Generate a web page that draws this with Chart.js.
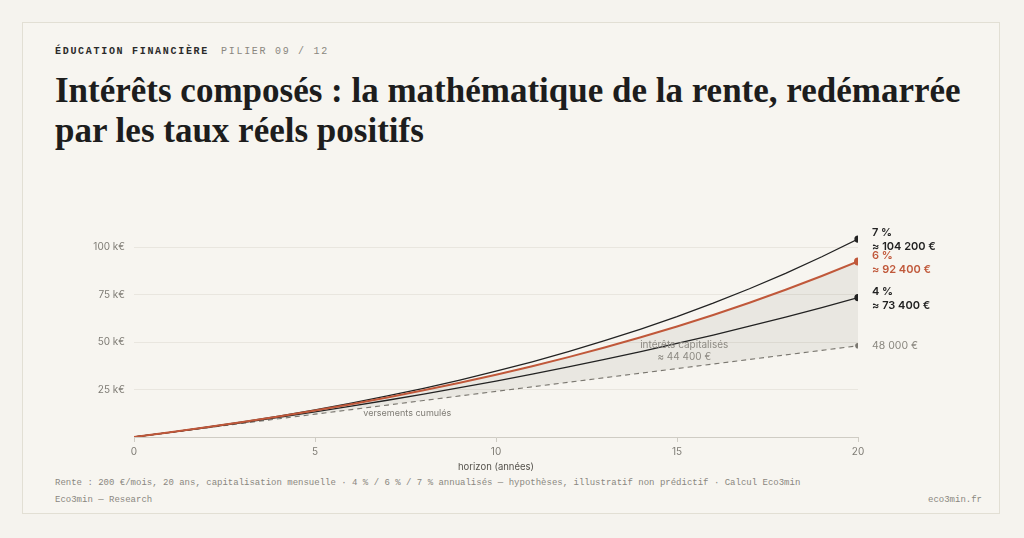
<!DOCTYPE html>
<html lang="fr">
<head>
<meta charset="utf-8">
<title>Intérêts composés</title>
<script src="https://cdn.jsdelivr.net/npm/chart.js@4.4.1/dist/chart.umd.min.js"></script>
<style>
    html, body {
        margin: 0;
        padding: 0;
        background: #f5f3ee;
        width: 1024px;
        height: 538px;
        overflow: hidden;
    }
    .card {
        position: absolute;
        left: 22px;
        top: 22px;
        width: 978px;
        height: 492px;
        border: 1px solid #e2dfd4;
        background: #f7f5f0;
        box-sizing: border-box;
    }
    .kicker {
        position: absolute;
        left: 55px;
        top: 46px;
        font-family: "Liberation Mono", "DejaVu Sans Mono", monospace;
        font-size: 10px;
        letter-spacing: 1.7px;
        color: #2a2a2a;
        font-weight: bold;
        white-space: nowrap;
    }
    .kicker span {
        font-weight: normal;
        color: #8a877f;
        margin-left: 12px;
    }
    h1 {
        position: absolute;
        left: 55px;
        top: 71px;
        margin: 0;
        font-family: "Liberation Serif", "DejaVu Serif", serif;
        font-weight: bold;
        font-size: 35px;
        line-height: 40px;
        color: #1d1d1d;
        width: 940px;
    }
    .chart-box {
        position: absolute;
        left: 55px;
        top: 210px;
        width: 930px;
        height: 263px;
    }
    .foot {
        position: absolute;
        font-family: "Liberation Mono", "DejaVu Sans Mono", monospace;
        font-size: 9px;
        color: #8a877f;
        white-space: nowrap;
    }
</style>
</head>
<body>
<div class="card"></div>
<div class="kicker">ÉDUCATION FINANCIÈRE<span>PILIER 09 / 12</span></div>
<h1>Intérêts composés : la mathématique de la rente, redémarrée par les taux réels positifs</h1>
<div class="chart-box"><canvas id="chart"></canvas></div>
<div class="foot" style="left:55px; top:478px;">Rente : 200 €/mois, 20 ans, capitalisation mensuelle · 4 % / 6 % / 7 % annualisés — hypothèses, illustratif non prédictif · Calcul Eco3min</div>
<div class="foot" style="left:55px; top:495px;">Eco3min — Research</div>
<div class="foot" style="right:42px; top:495px;">eco3min.fr</div>

<script>
// Years of the annuity (200 €/month)
var years = [0, 1, 2, 3, 4, 5, 6, 7, 8, 9, 10, 11, 12, 13, 14, 15, 16, 17, 18, 19, 20];

// Value of the annuity at end of each year, in €
var rate7 = [0, 2480, 5140, 7990, 11040, 14320, 17830, 21600, 25640, 29970, 34620,
             39600, 44940, 50670, 56810, 63390, 70450, 78030, 86140, 94850, 104190];
var rate6 = [0, 2470, 5090, 7870, 10820, 13950, 17280, 20820, 24570, 28550, 32780,
             37270, 42030, 47090, 52460, 58160, 64220, 70650, 77470, 84720, 92410];
var rate4 = [0, 2440, 4990, 7640, 10390, 13260, 16250, 19350, 22580, 25950, 29450,
             33090, 36890, 40830, 44940, 49220, 53670, 58300, 63120, 68140, 73360];
var deposits = [0, 2400, 4800, 7200, 9600, 12000, 14400, 16800, 19200, 21600, 24000,
                26400, 28800, 31200, 33600, 36000, 38400, 40800, 43200, 45600, 48000];

var xTicks = [0, 5, 10, 15, 20];
var yTicks = [0, 25000, 50000, 75000, 100000];

var INK = '#222222';
var RUST = '#c0583a';
var GREY = '#7a7770';
var SANS = 'Inter, "Noto Sans", sans-serif';

function toPoints(values) {
    return values.map(function(v, i) { return { x: years[i], y: v }; });
}

function fmtEuro(v) {
    var rounded = Math.round(v / 100) * 100;
    return rounded.toString().replace(/\B(?=(\d{3})+(?!\d))/g, ' ') + ' €';
}

function endOnly(radius) {
    return function(ctx) { return ctx.dataIndex === years.length - 1 ? radius : 0; };
}

// Labels at the end of each curve + the two annotations in the plot
var endLabels = {
    id: 'endLabels',
    afterDatasetsDraw: function(chart) {
        var ctx = chart.ctx;
        var xs = chart.scales.x;
        var ys = chart.scales.y;
        var last = years.length - 1;
        var lx = xs.getPixelForValue(years[last]) + 14;

        ctx.save();
        ctx.textAlign = 'left';
        ctx.textBaseline = 'middle';

        var items = [
            { name: '7 %', value: rate7[last], color: INK },
            { name: '6 %', value: rate6[last], color: RUST },
            { name: '4 %', value: rate4[last], color: INK }
        ];
        items.forEach(function(it) {
            var py = ys.getPixelForValue(it.value);
            ctx.fillStyle = it.color;
            ctx.font = '600 11px ' + SANS;
            ctx.fillText(it.name, lx, py - 6);
            ctx.fillText('≈ ' + fmtEuro(it.value), lx, py + 8);
        });

        ctx.fillStyle = '#8a877f';
        ctx.font = '10.5px ' + SANS;
        ctx.fillText(fmtEuro(deposits[last]), lx, ys.getPixelForValue(deposits[last]));

        // annotations inside the plot
        ctx.textAlign = 'center';
        ctx.font = '9px ' + SANS;
        ctx.fillStyle = '#7f7c75';
        ctx.fillText('versements cumulés', xs.getPixelForValue(7.55), ys.getPixelForValue(12300));

        var interest = Math.round(rate6[last] / 100) * 100 - deposits[last];
        ctx.font = '10px ' + SANS;
        ctx.fillStyle = '#8d8a83';
        ctx.fillText('intérêts capitalisés', xs.getPixelForValue(15.2), ys.getPixelForValue(48200));
        ctx.fillText('≈ ' + fmtEuro(interest), xs.getPixelForValue(15.2), ys.getPixelForValue(41900));
        ctx.restore();
    }
};

document.addEventListener('DOMContentLoaded', function() {
    var chart = new Chart(document.getElementById('chart'), {
        type: 'line',
        data: {
            datasets: [
                {
                    label: '7 %',
                    data: toPoints(rate7),
                    borderColor: INK,
                    backgroundColor: INK,
                    borderWidth: 1.3,
                    pointRadius: endOnly(3),
                    fill: false,
                    order: 1
                },
                {
                    label: '6 %',
                    data: toPoints(rate6),
                    borderColor: RUST,
                    backgroundColor: 'rgba(60, 50, 30, 0.07)',
                    pointBackgroundColor: RUST,
                    borderWidth: 2,
                    pointRadius: endOnly(3),
                    fill: 3,
                    order: 0
                },
                {
                    label: '4 %',
                    data: toPoints(rate4),
                    borderColor: INK,
                    backgroundColor: INK,
                    borderWidth: 1.3,
                    pointRadius: endOnly(3),
                    fill: false,
                    order: 2
                },
                {
                    label: 'versements cumulés',
                    data: toPoints(deposits),
                    borderColor: GREY,
                    backgroundColor: GREY,
                    borderWidth: 1.2,
                    borderDash: [5, 4],
                    pointRadius: endOnly(2.2),
                    fill: false,
                    order: 3
                }
            ]
        },
        options: {
            responsive: true,
            maintainAspectRatio: false,
            animation: false,
            events: [],
            layout: { padding: { top: 18, right: 127, left: 0, bottom: 0 } },
            plugins: {
                legend: { display: false },
                tooltip: { enabled: false },
                filler: { drawTime: 'beforeDatasetsDraw' }
            },
            scales: {
                x: {
                    type: 'linear',
                    min: 0,
                    max: 20,
                    afterBuildTicks: function(scale) {
                        scale.ticks = xTicks.map(function(v) { return { value: v }; });
                    },
                    afterFit: function(scale) { scale.height = 36; },
                    grid: {
                        drawOnChartArea: false,
                        drawTicks: true,
                        tickLength: 5,
                        color: '#cfccc4'
                    },
                    border: { color: '#cfccc4', width: 1 },
                    ticks: {
                        color: '#7f7c75',
                        font: { family: SANS, size: 10 },
                        padding: 4,
                        maxRotation: 0
                    },
                    title: {
                        display: true,
                        text: 'horizon (années)',
                        color: '#55524c',
                        font: { family: SANS, size: 9.5 },
                        padding: { top: 2, bottom: 0 }
                    }
                },
                y: {
                    min: 0,
                    max: 110000,
                    afterBuildTicks: function(scale) {
                        scale.ticks = yTicks.map(function(v) { return { value: v }; });
                    },
                    afterFit: function(scale) { scale.width = 79; },
                    grid: {
                        color: '#e9e6df',
                        drawTicks: false
                    },
                    border: { display: false },
                    ticks: {
                        color: '#7f7c75',
                        font: { family: SANS, size: 10 },
                        padding: 9,
                        callback: function(v) { return v === 0 ? '' : (v / 1000) + ' k€'; }
                    }
                }
            }
        },
        plugins: [endLabels]
    });
});
</script>
</body>
</html>
